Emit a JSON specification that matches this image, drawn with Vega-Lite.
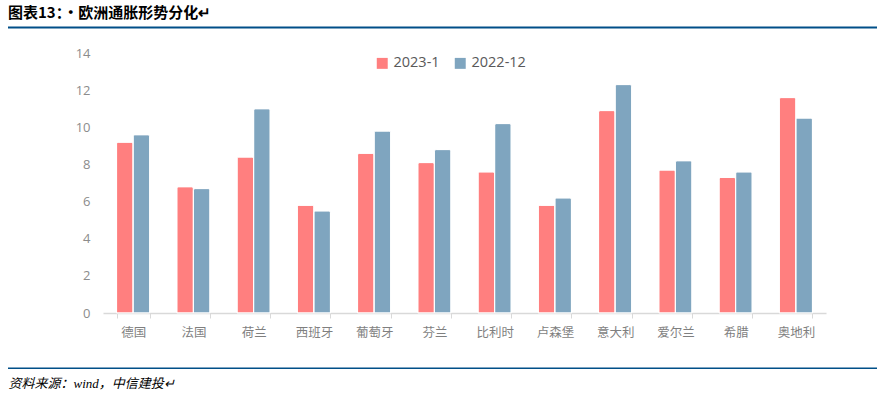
{
  "$schema": "https://vega.github.io/schema/vega-lite/v6.json",
  "width": 723,
  "height": 260,
  "autosize": {"type": "none"},
  "padding": {"left": 103, "top": 53, "right": 62, "bottom": 80},
  "background": "white",
  "config": {"view": {"stroke": null}, "font": "Open Sans, Noto Sans CJK SC"},
  "title": {
    "text": "图表13：·欧洲通胀形势分化↵",
    "anchor": "start",
    "frame": "group",
    "dx": -95,
    "dy": 15,
    "offset": 20,
    "fontSize": 15,
    "fontWeight": "bold",
    "font": "Noto Sans CJK SC",
    "color": "#000000"
  },
  "layer": [
    {
      "data": {
        "values": [
          {"country": "德国", "series": "2023-1", "value": 9.2},
          {"country": "德国", "series": "2022-12", "value": 9.6},
          {"country": "法国", "series": "2023-1", "value": 6.8},
          {"country": "法国", "series": "2022-12", "value": 6.7},
          {"country": "荷兰", "series": "2023-1", "value": 8.4},
          {"country": "荷兰", "series": "2022-12", "value": 11.0},
          {"country": "西班牙", "series": "2023-1", "value": 5.8},
          {"country": "西班牙", "series": "2022-12", "value": 5.5},
          {"country": "葡萄牙", "series": "2023-1", "value": 8.6},
          {"country": "葡萄牙", "series": "2022-12", "value": 9.8},
          {"country": "芬兰", "series": "2023-1", "value": 8.1},
          {"country": "芬兰", "series": "2022-12", "value": 8.8},
          {"country": "比利时", "series": "2023-1", "value": 7.6},
          {"country": "比利时", "series": "2022-12", "value": 10.2},
          {"country": "卢森堡", "series": "2023-1", "value": 5.8},
          {"country": "卢森堡", "series": "2022-12", "value": 6.2},
          {"country": "意大利", "series": "2023-1", "value": 10.9},
          {"country": "意大利", "series": "2022-12", "value": 12.3},
          {"country": "爱尔兰", "series": "2023-1", "value": 7.7},
          {"country": "爱尔兰", "series": "2022-12", "value": 8.2},
          {"country": "希腊", "series": "2023-1", "value": 7.3},
          {"country": "希腊", "series": "2022-12", "value": 7.6},
          {"country": "奥地利", "series": "2023-1", "value": 11.6},
          {"country": "奥地利", "series": "2022-12", "value": 10.5}
        ]
      },
      "mark": {"type": "bar", "stroke": "white", "strokeWidth": 1, "cornerRadiusTopLeft": 2, "cornerRadiusTopRight": 2},
      "encoding": {
        "x": {
          "field": "country",
          "type": "nominal",
          "sort": ["德国", "法国", "荷兰", "西班牙", "葡萄牙", "芬兰", "比利时", "卢森堡", "意大利", "爱尔兰", "希腊", "奥地利"],
          "scale": {"paddingInner": 0.45, "paddingOuter": 0.225},
          "axis": {
            "title": "资料来源：wind，中信建投↵",
            "titleX": -95,
            "titleY": 70,
            "titleAlign": "left",
            "titleAnchor": null,
            "titleBaseline": "middle",
            "titleFont": "Liberation Serif, Noto Sans CJK SC",
            "titleFontStyle": "italic",
            "titleFontWeight": "normal",
            "titleFontSize": 13,
            "titleColor": "#000000",
            "labelAngle": 0,
            "labelColor": "#7f7f7f",
            "labelFontSize": 12.5,
            "labelFont": "Noto Sans CJK SC",
            "labelPadding": 8,
            "tickBand": "extent",
            "tickColor": "#d9d9d9",
            "tickSize": 5,
            "domainColor": "#d9d9d9",
            "domainWidth": 1.5
          }
        },
        "xOffset": {"field": "series", "type": "nominal", "sort": ["2023-1", "2022-12"], "scale": {"paddingInner": 0, "paddingOuter": 0}},
        "y": {
          "field": "value",
          "type": "quantitative",
          "scale": {"domain": [0, 14]},
          "axis": {
            "title": null,
            "values": [0, 2, 4, 6, 8, 10, 12, 14],
            "grid": false,
            "domain": false,
            "ticks": false,
            "labelColor": "#8c8c8c",
            "labelFontSize": 13,
            "labelPadding": 13
          }
        },
        "color": {
          "field": "series",
          "type": "nominal",
          "scale": {"domain": ["2023-1", "2022-12"], "range": ["#FF7F7F", "#7FA5BF"]},
          "legend": {
            "title": null,
            "orient": "none",
            "legendX": 272,
            "legendY": 3,
            "direction": "horizontal",
            "symbolType": "square",
            "symbolSize": 120,
            "symbolStrokeWidth": 0,
            "labelFontSize": 14.5,
            "labelColor": "#595959",
            "labelOffset": 4,
            "columnPadding": 13
          }
        }
      }
    },
    {
      "data": {"values": [{}]},
      "mark": {"type": "rule", "color": "#004F88", "strokeWidth": 2.2, "clip": false},
      "encoding": {"x": {"value": -95}, "x2": {"value": 774}, "y": {"value": -25.5}}
    },
    {
      "data": {"values": [{}]},
      "mark": {"type": "rule", "color": "#004F88", "strokeWidth": 1.4, "clip": false},
      "encoding": {"x": {"value": -95}, "x2": {"value": 774}, "y": {"value": 315.3}}
    }
  ]
}
